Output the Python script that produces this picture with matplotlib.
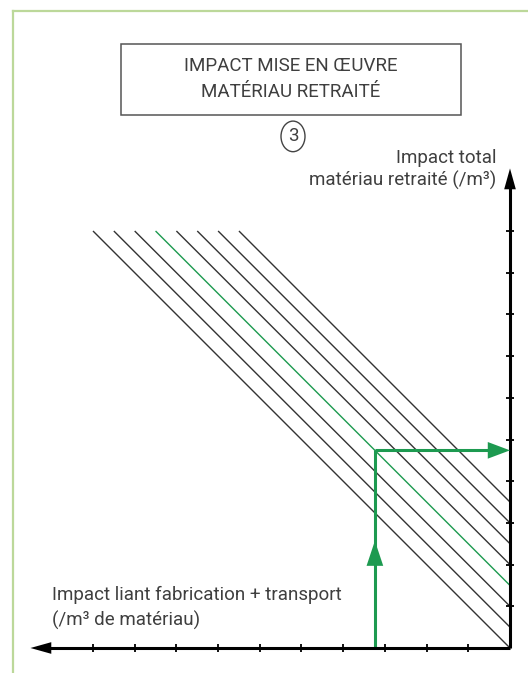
import matplotlib.pyplot as plt
from matplotlib.patches import Rectangle, Circle
from matplotlib.lines import Line2D

plt.rcParams['font.family'] = ['Roboto', 'DejaVu Sans']

# axis graduations (one unit per tick), x runs leftwards from the origin
x_ticks = [-1, -2, -3, -4, -5, -6, -7, -8, -9, -10]
y_ticks = [1, 2, 3, 4, 5, 6, 7, 8, 9, 10]
x_axis_end = -11.5
y_axis_end = 11.5

# iso-impact lines: v = -u + offset, drawn from v = 10 down to the y axis / x axis
line_offsets = [0.0, 0.5, 1.0, 1.5, 2.0, 2.5, 3.0, 3.5]
line_colors = ['#333333', '#333333', '#333333', '#1d9a50',
               '#333333', '#333333', '#333333', '#333333']
line_top = 10.0

# reading path: binder impact -> total impact
path_x = -3.24
path_offset = 1.5
path_arrow = (1.95, 2.57)

green = '#1d9a50'
text_col = '#3f3f3f'
fs = 13.5

W, H = 528, 673
fig = plt.figure(figsize=(W / 100, H / 100), dpi=100)
ax = fig.add_axes([0, 0, 1, 1])
px_unit = 41.7
ox, oy = 510, 648
ax.set_xlim(-ox / px_unit, (W - ox) / px_unit)
ax.set_ylim(-(H - oy) / px_unit, oy / px_unit)
ax.axis('off')

# outer frame (light green)
fig.add_artist(Line2D([12.5 / W, 12.5 / W], [0, 1 - 11 / H],
                      transform=fig.transFigure, color='#bcd89a', lw=1.6))
fig.add_artist(Line2D([12.5 / W, 1], [1 - 11 / H, 1 - 11 / H],
                      transform=fig.transFigure, color='#bcd89a', lw=1.6))

# title box
fig.add_artist(Rectangle((121 / W, 1 - 114.5 / H), (460.6 - 121) / W,
                         (114.5 - 43.8) / H, transform=fig.transFigure,
                         fill=False, ec='#555555', lw=1.1))
fig.text(291 / W, 1 - 66 / H, 'IMPACT MISE EN ŒUVRE', ha='center',
         va='center', fontsize=fs, color=text_col)
fig.text(291 / W, 1 - 92 / H, 'MATÉRIAU RETRAITÉ', ha='center',
         va='center', fontsize=fs, color=text_col)
fig.add_artist(Circle((293 / W, 1 - 136.4 / H), 12 / W,
                      transform=fig.transFigure, fill=False,
                      ec='#444444', lw=1.0))
fig.text(293 / W, 1 - 136.4 / H, '3', ha='center', va='center',
         fontsize=fs, color=text_col)

# diagonal lines
for off, c in zip(line_offsets, line_colors):
    u0 = off - line_top
    u1 = min(0.0, off)
    ax.plot([u0, u1], [-u0 + off, -u1 + off], color=c, lw=1.0,
            solid_capstyle='butt', zorder=2)

# axes with arrow heads
ax.plot([x_axis_end + 0.3, 0], [0, 0], color='black', lw=2.2, zorder=4,
        solid_capstyle='butt')
ax.plot([0, 0], [0, y_axis_end - 0.3], color='black', lw=2.2, zorder=4,
        solid_capstyle='butt')
ax.annotate('', xy=(x_axis_end, 0), xytext=(x_axis_end + 0.6, 0),
            arrowprops=dict(arrowstyle='-|>,head_length=1.5,head_width=0.42',
                            mutation_scale=10, color='black', lw=0,
                            shrinkA=0, shrinkB=0), zorder=5)
ax.annotate('', xy=(0, y_axis_end), xytext=(0, y_axis_end - 0.6),
            arrowprops=dict(arrowstyle='-|>,head_length=1.5,head_width=0.42',
                            mutation_scale=10, color='black', lw=0,
                            shrinkA=0, shrinkB=0), zorder=5)
ax.plot(x_ticks, [0] * len(x_ticks), ls='none', marker='|', ms=5.5,
        mew=1.3, color='black', zorder=5)
ax.plot([0] * len(y_ticks), y_ticks, ls='none', marker='_', ms=6,
        mew=1.3, color='black', zorder=5)

# green reading path
corner_y = -path_x + path_offset
ax.plot([path_x, path_x], [0, corner_y], color=green, lw=2.2, zorder=3,
        solid_capstyle='butt')
ax.plot([path_x, -0.5], [corner_y, corner_y], color=green, lw=2.2,
        zorder=3, solid_capstyle='butt')
ax.annotate('', xy=(0, corner_y), xytext=(-0.55, corner_y),
            arrowprops=dict(arrowstyle='-|>,head_length=1.6,head_width=0.6',
                            mutation_scale=10, color=green, lw=0,
                            shrinkA=0, shrinkB=0), zorder=6)
ax.annotate('', xy=(path_x, path_arrow[1]), xytext=(path_x, path_arrow[0]),
            arrowprops=dict(arrowstyle='-|>,head_length=1.8,head_width=0.6',
                            mutation_scale=10, color=green, lw=0,
                            shrinkA=0, shrinkB=0), zorder=6)

# axis labels
fig.text(496.5 / W, 1 - 158 / H, 'Impact total', ha='right', va='center',
         fontsize=fs, color=text_col)
fig.text(496.5 / W, 1 - 180 / H, 'matériau retraité (/m³)', ha='right',
         va='center', fontsize=fs, color=text_col)
fig.text(52 / W, 1 - 595 / H, 'Impact liant fabrication + transport',
         ha='left', va='center', fontsize=fs, color=text_col)
fig.text(52 / W, 1 - 620 / H, '(/m³ de matériau)', ha='left',
         va='center', fontsize=fs, color=text_col)

fig.savefig('out.png', dpi=100)
